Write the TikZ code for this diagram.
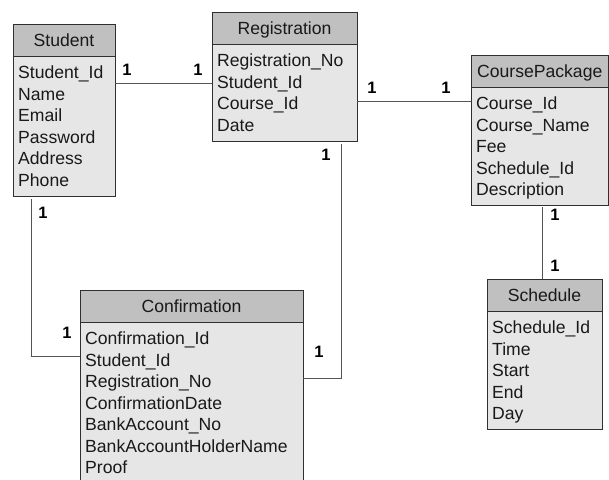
\documentclass[tikz,border=0pt]{standalone}
\usepackage{fontspec}
\setmainfont{Liberation Sans}
\definecolor{hdrfill}{HTML}{C0C0C0}
\definecolor{bodyfill}{HTML}{E6E6E6}
\definecolor{edgec}{HTML}{303030}
\definecolor{connc}{HTML}{555555}
\tikzset{
  hdrbox/.style={draw=edgec, fill=hdrfill, line width=1pt, anchor=north west, inner sep=0pt, outer sep=0pt, minimum height=32pt},
  bodybox/.style={draw=edgec, fill=bodyfill, line width=1pt, anchor=north west, inner sep=0pt, outer sep=0pt},
  title/.style={anchor=base, inner sep=0pt, font=\fontsize{17.6}{21}\selectfont, text=black!90},
  field/.style={anchor=base west, inner sep=0pt, font=\fontsize{17.6}{21}\selectfont, text=black!90},
  card/.style={font=\fontsize{16.5}{18}\bfseries\selectfont, inner sep=0pt},
  link/.style={draw=connc, line width=1pt},
}
% #1 id, #2 left x, #3 top y, #4 width, #5 bottom y, #6 title, #7 fields
\newcommand{\erbox}[7]{%
  \node[hdrbox, minimum width=#4pt] (#1H) at (#2pt,-#3pt) {};
  \node[bodybox, minimum width=#4pt, minimum height={(#5-#3-32)*1pt}] (#1B) at (#1H.south west) {};
  \node[title] (#1T) at ({(#2+#4/2)*1pt},{-(#3+22.5)*1pt}) {#6};
  \foreach \f [count=\i from 0] in {#7}
    \node[field] (#1r\i) at ({(#2+5)*1pt},{-(#3+54.5+21.5*\i)*1pt}) {\f};
}
\begin{document}
\begin{tikzpicture}
\useasboundingbox (0,0) rectangle (609pt,-479pt);
\clip (0,0) rectangle (609pt,-479pt);

\erbox{stu}{13}{24}{102}{196}{Student}{Student\_Id,Name,Email,Password,Address,Phone}
\erbox{reg}{212}{12}{145}{141}{Registration}{Registration\_No,Student\_Id,Course\_Id,Date}
\erbox{cp}{471}{55}{137.5}{205}{CoursePackage}{Course\_Id,Course\_Name,Fee,Schedule\_Id,Description}
\erbox{sch}{487}{279}{115}{429}{Schedule}{Schedule\_Id,Time,Start,End,Day}
\erbox{conf}{80}{290}{223}{495}{Confirmation}{Confirmation\_Id,Student\_Id,Registration\_No,ConfirmationDate,BankAccount\_No,BankAccountHolderName,Proof}

% connector coordinates
\coordinate (ya) at (0,-83pt);
\coordinate (yb) at (0,-101pt);
\coordinate (cc) at (542pt,0);
\coordinate (sa) at (31pt,-356pt);
\coordinate (rb) at (341pt,-378pt);

\draw[link] (stuB.east |- ya) -- (regB.west |- ya);
\draw[link] (regB.east |- yb) -- (cpB.west |- yb);
\draw[link, shorten <=2pt] (cpB.south -| cc) -- (schH.north -| cc);
\draw[link, shorten <=3pt] (stuB.south -| sa) -- (sa) -- (confB.west |- sa);
\draw[link, shorten <=3pt] (regB.south -| rb) -- (rb) -- (confB.east |- rb);

% cardinalities
\node[card] (c1) at (127pt,-69.7pt) {1};
\node[card] (c2) at (198pt,-69.7pt) {1};
\node[card] (c3) at (372pt,-88pt) {1};
\node[card] (c4) at (446pt,-88pt) {1};
\node[card] (c5) at (555pt,-215pt) {1};
\node[card] (c6) at (555pt,-266pt) {1};
\node[card] (c7) at (43pt,-213pt) {1};
\node[card] (c8) at (67pt,-333pt) {1};
\node[card] (c9) at (326pt,-155pt) {1};
\node[card] (c10) at (319pt,-352pt) {1};
\end{tikzpicture}
\end{document}
